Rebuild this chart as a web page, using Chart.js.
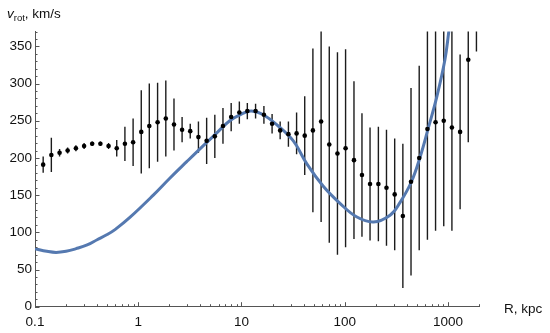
<!DOCTYPE html>
<html>
<head>
<meta charset="utf-8">
<script src="https://cdn.jsdelivr.net/npm/chart.js@4"></script>
<style>
    html, body { margin: 0; padding: 0; background: #fff; }
    #wrap { position: relative; width: 550px; height: 333px; }
    .axis-label {
        position: absolute;
        font-family: "Liberation Sans", Arial, sans-serif;
        font-size: 13.5px;
        line-height: 1;
        color: #111;
        white-space: nowrap;
    }
    .axis-label sub { font-size: 9.5px; vertical-align: baseline; position: relative; top: 3px; }
</style>
</head>
<body>
<div id="wrap">
    <canvas id="rotationCurve"></canvas>
    <div class="axis-label" style="left:7px; top:7px"><i>v</i><sub>rot</sub>, km/s</div>
    <div class="axis-label" style="left:504px; top:302px">R, kpc</div>
</div>
<script>
// measured rotation velocities (kpc, km/s)
const radius = [0.12, 0.144, 0.173, 0.207, 0.249, 0.299, 0.358, 0.43, 0.516, 0.619, 0.743, 0.892, 1.07, 1.28, 1.54, 1.85, 2.22, 2.66, 3.19, 3.83, 4.6, 5.52, 6.62, 7.95, 9.54, 11.4, 13.7, 16.5, 19.8, 23.7, 28.5, 34.2, 41, 49.2, 59.1, 70.9, 85.1, 102, 123, 147, 176, 212, 254, 305, 366, 439, 527, 633, 759, 911, 1093, 1312, 1574, 1889];
const velocity = [191, 204, 207, 210, 213, 216, 219, 219, 216, 213, 219, 221, 235, 243, 248, 253, 245, 238, 236, 228, 223, 229, 243, 255, 261, 263, 263, 258, 246, 237, 232, 233, 230, 237, 249, 218, 206, 213, 197, 177, 165, 165, 160, 151, 122, 168, 200, 239, 248, 250, 241, 235, 332, 455];
const velocityErr = [11, 23, 5, 4, 4, 4, 3, 3, 4, 11, 23, 32, 56, 57, 53, 51, 35, 17, 10, 21, 31, 29, 24, 19, 15, 11, 10, 12, 13, 12, 17, 28, 53, 110, 135, 132, 136, 133, 106, 83, 76, 77, 78, 75, 97, 126, 124, 149, 146, 142, 139, 104, 111, 112];

// model curve
const modelR = [0.1, 0.13, 0.16, 0.2, 0.25, 0.32, 0.4, 0.5, 0.6, 0.83, 1.4, 2.0, 2.95, 4.3, 5.7, 7.7, 10, 12.5, 16.7, 23.6, 30, 34, 43, 62, 90, 130, 190, 275, 343, 443, 540, 645, 780, 935, 1020, 1100];
const modelV = [78, 74.5, 73, 74.5, 78, 83, 90, 97, 104, 120, 150, 172, 195, 217, 233, 250, 259, 263, 257, 241, 227, 217, 192, 162, 139, 121, 114, 123, 140, 168, 202, 240, 282, 332, 370, 405];

const xTicks = [0.1, 1, 10, 100, 1000];
const yTicks = [0, 50, 100, 150, 200, 250, 300, 350];

const font = { family: "'Liberation Sans', Arial, sans-serif", size: 13.5 };

// vertical error bars, drawn under the points
const errorBars = {
    id: "errorBars",
    beforeDatasetsDraw(chart) {
        const { ctx, chartArea, scales: { x, y } } = chart;
        ctx.save();
        ctx.beginPath();
        ctx.rect(chartArea.left, chartArea.top, chartArea.right - chartArea.left, chartArea.bottom - chartArea.top);
        ctx.clip();
        ctx.strokeStyle = "#1c1c1c";
        ctx.lineWidth = 1.4;
        radius.forEach((r, i) => {
            const px = x.getPixelForValue(r);
            ctx.beginPath();
            ctx.moveTo(px, y.getPixelForValue(velocity[i] - velocityErr[i]));
            ctx.lineTo(px, y.getPixelForValue(velocity[i] + velocityErr[i]));
            ctx.stroke();
        });
        ctx.restore();
    },
};

// inward tick marks, Mathematica style
const innerTicks = {
    id: "innerTicks",
    afterDraw(chart) {
        const { ctx, chartArea, scales: { x, y } } = chart;
        ctx.save();
        ctx.strokeStyle = "#555";
        ctx.lineWidth = 1;
        for (let v = 0; v <= 370; v += 10) {
            const py = Math.round(y.getPixelForValue(v)) + 0.5;
            const len = v % 50 === 0 ? 4.5 : 2.5;
            ctx.beginPath();
            ctx.moveTo(chartArea.left, py);
            ctx.lineTo(chartArea.left + len, py);
            ctx.stroke();
        }
        for (let e = -1; e <= 3; e++) {
            for (let k = 1; k <= 9; k++) {
                const v = k * Math.pow(10, e);
                if (v > 2000) continue;
                const px = Math.round(x.getPixelForValue(v)) + 0.5;
                const len = k === 1 ? 4.5 : 2.5;
                ctx.beginPath();
                ctx.moveTo(px, chartArea.bottom);
                ctx.lineTo(px, chartArea.bottom - len);
                ctx.stroke();
            }
        }
        ctx.restore();
    },
};

const ctx = document.getElementById("rotationCurve").getContext("2d");

new Chart(ctx, {
    type: "scatter",
    data: {
        datasets: [
            {
                label: "data",
                data: radius.map((r, i) => ({ x: r, y: velocity[i] })),
                pointRadius: 2.3,
                pointBackgroundColor: "#000",
                pointBorderWidth: 0,
                order: 0,
            },
            {
                label: "model",
                data: modelR.map((r, i) => ({ x: r, y: modelV[i] })),
                showLine: true,
                borderColor: "#5579b0",
                borderWidth: 3,
                pointRadius: 0,
                tension: 0.4,
                fill: false,
                order: 1,
            },
        ],
    },
    options: {
        responsive: true,
        maintainAspectRatio: false,
        animation: false,
        layout: { padding: { top: 31.5, right: 71, left: 0, bottom: 0 } },
        plugins: {
            legend: { display: false },
            tooltip: { enabled: false },
        },
        scales: {
            x: {
                type: "logarithmic",
                min: 0.1,
                max: 2000,
                grid: { display: false, drawTicks: false },
                border: { color: "#555", width: 1 },
                afterBuildTicks: (scale) => {
                    scale.ticks = xTicks.map((v) => ({ value: v }));
                },
                afterFit: (scale) => {
                    scale.height = 26.3;
                },
                ticks: {
                    autoSkip: false,
                    maxRotation: 0,
                    padding: 7,
                    color: "#111",
                    font: font,
                    callback: (value) => (value < 1 ? value.toFixed(1) : String(Math.round(value))),
                },
            },
            y: {
                type: "linear",
                min: 0,
                max: 370,
                grid: { display: false, drawTicks: false },
                border: { color: "#555", width: 1 },
                afterBuildTicks: (scale) => {
                    scale.ticks = yTicks.map((v) => ({ value: v }));
                },
                afterFit: (scale) => {
                    scale.width = 35;
                },
                ticks: {
                    padding: 3,
                    color: "#111",
                    font: font,
                },
            },
        },
    },
    plugins: [errorBars, innerTicks],
});
</script>
</body>
</html>
